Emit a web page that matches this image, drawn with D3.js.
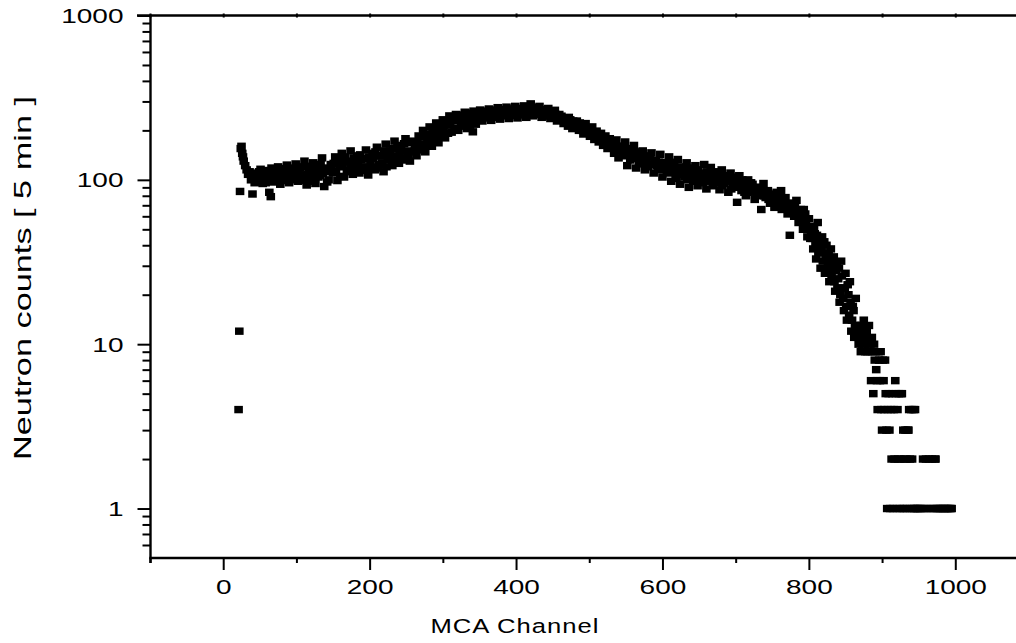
<!DOCTYPE html>
<html><head><meta charset="utf-8">
<script src="https://cdn.jsdelivr.net/npm/d3@7"></script>
<style>
body{margin:0;background:#fff}
svg{display:block}
text{font-family:"Liberation Sans",Arial,sans-serif;fill:#000}
</style>
</head><body>
<svg id="c" width="1016" height="643"></svg>
<script>
// ---------------- data ----------------
const channels = [
 21,22,23,24,25,26,27,28,30,32,34,36,38,40,41,43,45,
 48,51,54,57,60,63,65,66,69,72,75,78,81,84,87,90,93,96,99,
 102,105,108,111,114,117,120,123,126,129,132,135,138,141,144,147,
 150,153,156,159,162,165,168,171,174,177,180,183,186,189,192,195,198,
 201,204,207,210,213,216,219,222,225,228,231,234,237,240,243,246,249,252,255,258,261,
 264,267,270,273,276,279,282,285,288,291,294,297,300,
 303,306,309,312,315,318,321,324,327,330,333,336,339,341,342,345,348,
 351,354,357,360,363,366,369,372,375,378,381,384,387,390,393,396,399,402,405,408,411,414,417,420,423,426,
 429,432,435,438,441,444,447,450,453,456,459,462,465,
 468,471,474,477,480,483,486,489,492,495,
 498,501,504,507,510,513,516,519,522,525,528,531,534,537,540,
 543,546,549,552,555,558,561,564,567,570,573,576,579,582,585,588,591,594,597,600,
 603,606,609,612,615,618,621,624,627,630,633,636,639,642,645,648,651,654,657,660,663,666,
 669,672,675,678,681,684,687,690,693,696,699,702,705,708,711,714,717,720,723,726,729,732,735,738,
 741,744,747,750,753,756,759,762,765,768,771,774,777,780,783,786,789,792,795,798,
 800,802,804,806,808,810,812,814,816,818,820,822,824,826,828,830,832,834,836,838,840,842,844,846,848,850,852,854,856,858,860,862,864,866,868,
 870,871,872,873,874,875,876,877,878,879,880,881,882,883,884,885,886,887,888,889,
 890,891,892,893,894,895,896,897,898,899,900,901,902,903,904,905,906,907,908,909,
 910,911,912,913,914,915,916,917,918,919,920,921,922,923,924,925,926,927,928,929,
 930,931,932,933,934,935,936,937,938,939,940,941,942,943,944,945,946,
 948,950,952,954,956,958,960,962,964,966,968,970,972,973,974,976,978,980,982,984,986,988,990,992,994,995,
 49,52,55,58,61,64,67,70,73,76,79,82,85,88,91,94,97,100,
 103,106,109,112,115,118,121,124,127,130,133,136,139,142,145,148,
 151,154,157,160,163,166,169,172,175,178,181,184,187,190,193,196,199,
 202,205,208,211,214,217,220,223,226,229,232,235,238,241,244,247,250,253,256,259,262,
 265,268,271,274,277,280,283,286,289,292,295,298,301,
 304,307,310,313,316,319,322,325,328,331,334,337,340,343,346,349,
 352,355,358,361,364,367,370,373,376,379,382,385,388,391,394,397,400,403,406,409,412,415,418,421,424,427,
 430,433,436,439,442,445,448,451,454,457,460,463,466,
 469,472,475,478,481,484,487,490,493,496,
 499,502,505,508,511,514,517,520,523,526,529,532,535,538,541,
 544,547,550,553,556,559,562,565,568,571,574,577,580,583,586,589,592,595,598,601,
 604,607,610,613,616,619,622,625,628,631,634,637,640,643,646,649,652,655,658,661,664,667,
 670,673,676,679,682,685,688,691,694,697,700,703,706,709,712,715,718,721,724,727,730,733,736,739,
 742,745,748,751,754,757,760,763,766,769,772,775,778,781,784,787,790,793,796,799,
 801,803,805,807,809,811,813,815,817,819,821,823,825,827,829,831,833,835,837,839,841,843,845,847,849,851,853,855,857,859,861,863,865,867,869
];
const counts = [
 4,12,85,155,160,145,138,130,122,115,108,112,100,82,104,96,110,
 105,116,95,110,100,84,79,118,97,108,120,94,112,102,123,96,115,104,125,
 98,118,107,130,93,112,101,127,95,118,106,136,91,114,100,124,
 110,138,99,122,145,104,130,115,150,108,125,140,110,132,118,152,107,
 128,145,115,158,124,140,112,165,132,150,122,172,140,126,160,135,178,145,130,168,150,
 140,185,158,200,148,175,210,160,190,222,168,200,232,
 180,215,245,195,228,250,200,236,212,258,205,242,225,196,262,218,245,
 266,228,252,238,270,230,258,244,275,234,262,248,277,236,264,250,280,238,266,252,282,240,268,290,245,275,
 258,280,240,268,250,272,236,258,265,228,250,244,220,
 238,212,232,205,225,228,200,218,190,220,
 205,184,210,176,198,170,192,162,185,155,178,165,145,175,136,
 160,145,170,122,155,138,162,118,148,130,150,115,140,125,146,110,132,118,143,104,
 128,112,138,98,122,108,133,94,117,104,127,90,112,98,122,92,110,100,124,88,105,119,
 92,112,98,87,115,95,105,84,110,92,100,73,106,86,96,80,100,88,94,76,90,82,66,95,
 78,86,72,82,68,84,74,86,70,78,62,46,72,60,75,55,66,50,62,45,
 58,44,52,38,47,33,55,40,29,45,36,27,40,31,24,38,28,34,21,30,25,18,32,22,16,27,14,20,24,12,17,11,19,13,10,
 11,9,13,10,12,14,10,9,11,12,9,10,13,9,10,6,11,9,5,10,
 8,9,7,6,4,9,8,6,9,4,3,8,6,4,8,5,3,1,4,5,
 3,1,4,2,5,1,4,2,6,5,1,4,2,5,1,2,5,5,1,3,
 2,1,3,2,1,3,3,4,2,1,4,2,1,4,1,4,1,
 1,1,1,1,2,1,2,1,2,1,2,1,2,2,1,1,1,1,1,1,1,1,1,1,1,1,
 112,101,108,96,114,105,99,113,102,109,117,99,110,106,118,100,112,108,
 115,103,120,99,108,121,110,98,116,104,124,109,118,97,112,118,
 126,112,133,105,120,138,112,128,120,136,114,128,142,120,135,114,138,
 120,134,148,118,140,127,150,120,142,135,155,130,162,145,132,166,150,140,172,148,162,
 170,152,182,165,190,160,185,205,175,195,212,182,210,
 225,192,218,238,205,230,248,220,240,225,255,215,248,235,255,230,
 248,262,240,256,245,266,240,260,250,268,245,262,255,270,246,268,255,272,248,270,258,276,250,268,262,252,
 268,250,262,244,262,248,255,240,250,242,232,238,228,
 225,240,218,228,210,218,222,200,212,198,
 195,200,188,196,182,188,176,180,168,172,160,170,162,150,160,
 150,158,140,148,132,150,135,140,128,140,125,132,120,138,124,130,122,128,115,125,
 118,126,110,116,128,102,115,120,108,112,100,118,105,110,100,115,104,96,108,112,98,104,
 104,96,108,100,92,106,98,102,88,104,90,96,92,100,84,92,86,96,84,88,80,90,84,80,
 84,76,80,74,78,72,80,66,76,68,72,64,66,70,62,64,58,66,54,50,
 52,48,44,50,40,46,36,44,38,32,42,34,28,35,30,26,32,24,28,22,29,20,26,19,22,17,23,15,18,14,16,13,12,11,12
];
const xMajorTicks = [0,200,400,600,800,1000];
const xMinorTicks = [-100,100,300,500,700,900,1100];
const yMajorTicks = [1,10,100,1000];
const yMinorTicks = [0.6,0.7,0.8,0.9,2,3,4,5,6,7,8,9,20,30,40,50,60,70,80,90,200,300,400,500,600,700,800,900];
const xTitle = "MCA Channel";
const yTitle = "Neutron counts [ 5 min ]";

// ---------------- drawing ----------------
const SX = 1.4;          // wide lettering of the original tick labels
const svg = d3.select("#c");
const x = d3.scaleLinear().domain([-100, 1100]).range([150, 1028.5]);
const y = d3.scaleLog().domain([0.5, 1000]).range([558, 15.5]);
const pts = channels.map((c, i) => ({c, v: counts[i]}));

// markers
svg.append("g").selectAll("rect").data(pts).join("rect")
  .attr("x", d => x(d.c) - 4.3).attr("y", d => y(d.v) - 3.7)
  .attr("width", 8.6).attr("height", 7.4).attr("fill", "#000");

const axStyle = g => { g.select(".domain").remove(); g.selectAll("line").attr("stroke", "#000").attr("stroke-width", 2); };

// left axis
const gl = svg.append("g").attr("transform", "translate(150.5,0)");
gl.append("g").call(d3.axisLeft(y).tickValues(yMinorTicks).tickSize(8).tickFormat("")).call(axStyle);
const glm = gl.append("g").call(d3.axisLeft(y).tickValues(yMajorTicks).tickSize(13).tickFormat(d3.format("d"))).call(axStyle);
glm.selectAll("text").attr("x", null).attr("dy", null)
  .attr("font-size", 20).attr("text-anchor", "end").attr("fill", "#1a1a1a")
  .attr("transform", `translate(-27,7) scale(${SX},1)`);
svg.append("line").attr("x1", 150.5).attr("x2", 150.5).attr("y1", 14.5).attr("y2", 563)
  .attr("stroke", "#000").attr("stroke-width", 2.4);

// bottom axis
const gb = svg.append("g").attr("transform", "translate(0,558)");
gb.append("g").call(d3.axisBottom(x).tickValues(xMinorTicks).tickSize(5).tickFormat("")).call(axStyle);
const gbm = gb.append("g").call(d3.axisBottom(x).tickValues(xMajorTicks).tickSize(12).tickFormat(d3.format("d"))).call(axStyle);
gbm.selectAll("text").attr("y", null).attr("dy", null)
  .attr("font-size", 20).attr("text-anchor", "middle").attr("fill", "#1a1a1a")
  .attr("transform", `translate(0,36) scale(${SX},1)`);
svg.append("line").attr("x1", 149.3).attr("x2", 1030).attr("y1", 558).attr("y2", 558)
  .attr("stroke", "#000").attr("stroke-width", 2.4);

// top frame line with small ticks
svg.append("line").attr("x1", 137).attr("x2", 1030).attr("y1", 15.5).attr("y2", 15.5)
  .attr("stroke", "#000").attr("stroke-width", 2.4);
const gt = svg.append("g").attr("transform", "translate(0,17.5)");
gt.call(d3.axisTop(x).tickValues(xMajorTicks.concat(xMinorTicks)).tickSize(4).tickFormat("")).call(axStyle);

// titles
svg.append("text").attr("font-size", 20.5).attr("text-anchor", "middle").attr("fill", "#1a1a1a")
  .attr("letter-spacing", 0.8)
  .attr("transform", `translate(515,633) scale(1.25,1)`).text(xTitle);
svg.append("text").attr("font-size", 24.5).attr("text-anchor", "middle").attr("fill", "#1a1a1a")
  .attr("transform", `translate(31,278) rotate(-90) scale(${SX},1)`).text(yTitle);
</script>
</body></html>
